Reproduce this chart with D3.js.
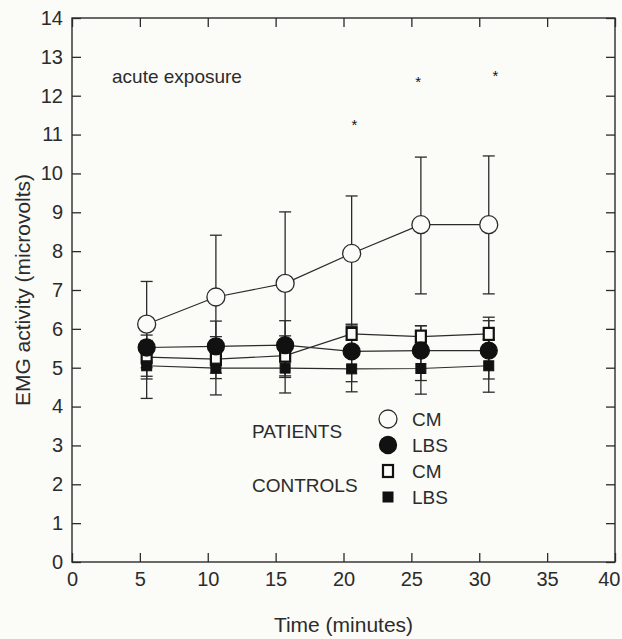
<!DOCTYPE html>
<html>
<head>
<meta charset="utf-8">
<script src="https://cdn.jsdelivr.net/npm/d3@7"></script>
<style>
  body { margin: 0; background: #fbfbf7; }
  svg { display: block; font-family: "Liberation Sans", Arial, sans-serif; }
</style>
</head>
<body>
<script>
// Data (minutes, microvolts).
var times = [5.5, 10.6, 15.7, 20.6, 25.7, 30.7];

var patientsCM    = [6.12, 6.82, 7.17, 7.94, 8.68, 8.68];
var patientsCMHi  = [7.22, 8.41, 9.01, 9.42, 10.42, 10.45];
var patientsCMLo  = [5.0, 5.2, 5.3, 6.1, 6.9, 6.9];

var patientsLBS   = [5.52, 5.55, 5.58, 5.42, 5.44, 5.44];
var patientsLBSHi = [6.2, 6.2, 6.21, 6.12, 6.08, 6.21];
var patientsLBSLo = [4.78, 4.86, 4.79, 4.64, 4.67, 4.71];

var controlsCM    = [5.27, 5.22, 5.31, 5.87, 5.80, 5.87];
var controlsCMHi  = [5.84, 5.8, 5.82, 6.06, 6.08, 6.30];
var controlsCMLo  = [4.71, 4.72, 4.75, 5.5, 5.5, 5.45];

var controlsLBS   = [5.05, 4.99, 4.99, 4.97, 4.98, 5.05];
var controlsLBSHi = [5.7, 5.7, 5.6, 5.56, 5.64, 5.73];
var controlsLBSLo = [4.21, 4.3, 4.35, 4.38, 4.32, 4.37];

// Significance marks.
var starTimes  = [20.8, 25.5, 31.2];
var starValues = [11.3, 12.4, 12.55];

var xTicks = [0, 5, 10, 15, 20, 25, 30, 35, 40];
var yTicks = [0, 1, 2, 3, 4, 5, 6, 7, 8, 9, 10, 11, 12, 13, 14];

var legendGroups = ["PATIENTS", "CONTROLS"];
var legendLabels = ["CM", "LBS", "CM", "LBS"];

var ink = "#2b2b2b";
var paper = "#fbfbf7";

// Create chart.
var width = 622, height = 639;
var svg = d3.select("body").append("svg")
        .attr("width", width)
        .attr("height", height);

var x = d3.scaleLinear().domain([0, 40]).range([72, 615]);
var y = d3.scaleLinear().domain([0, 14]).range([562, 18]);

// Axes with inward ticks on all four sides.
var tickLen = 9;
var gLeft = svg.append("g").attr("transform", "translate(" + x(0) + ",0)")
        .call(d3.axisLeft(y).tickValues(yTicks).tickSize(-tickLen).tickPadding(9));
var gBottom = svg.append("g").attr("transform", "translate(0," + y(0) + ")")
        .call(d3.axisBottom(x).tickValues(xTicks).tickSize(-tickLen).tickPadding(10));
var gRight = svg.append("g").attr("transform", "translate(" + x(40) + ",0)")
        .call(d3.axisRight(y).tickValues(yTicks).tickSize(-tickLen).tickFormat(""));
var gTop = svg.append("g").attr("transform", "translate(0," + y(14) + ")")
        .call(d3.axisTop(x).tickValues(xTicks).tickSize(-tickLen).tickFormat(""));

[gLeft, gBottom, gRight, gTop].forEach(function(g) {
    g.select(".domain").remove();
    g.selectAll(".tick line").attr("stroke", ink).attr("stroke-width", 1.3);
    g.selectAll(".tick text").attr("fill", ink).style("font-size", "20px");
});
// The last x label sits against the page edge, keep it inside.
gBottom.selectAll(".tick text").filter(function(d) { return d === 40; })
        .attr("text-anchor", "end").attr("dx", 5);

// Frame.
svg.append("rect")
        .attr("x", x(0)).attr("y", y(14))
        .attr("width", x(40) - x(0)).attr("height", y(0) - y(14))
        .attr("fill", "none").attr("stroke", ink).attr("stroke-width", 1.4);

// Axis titles.
svg.append("text")
        .attr("x", (x(0) + x(40)) / 2).attr("y", 632)
        .attr("text-anchor", "middle").attr("fill", ink)
        .style("font-size", "21px")
        .text("Time (minutes)");
svg.append("text")
        .attr("transform", "translate(30," + y(7) + ") rotate(-90)")
        .attr("text-anchor", "middle").attr("fill", ink)
        .style("font-size", "21px")
        .text("EMG activity (microvolts)");

svg.append("text")
        .attr("x", 112).attr("y", 83)
        .attr("fill", ink).style("font-size", "19px")
        .text("acute exposure");

// Series definitions.
var series = [
    {mean: patientsCM,  hi: patientsCMHi,  lo: patientsCMLo,  shape: "circle", filled: false},
    {mean: controlsCM,  hi: controlsCMHi,  lo: controlsCMLo,  shape: "square", filled: false},
    {mean: controlsLBS, hi: controlsLBSHi, lo: controlsLBSLo, shape: "square", filled: true},
    {mean: patientsLBS, hi: patientsLBSHi, lo: patientsLBSLo, shape: "circle", filled: true}
];

var line = d3.line()
        .x(function(d) { return x(d[0]); })
        .y(function(d) { return y(d[1]); });

var drawMarker = function(g, shape, filled, cx, cy) {
    if (shape === "circle") {
        g.append("circle")
                .attr("cx", cx).attr("cy", cy).attr("r", filled ? 8.5 : 9)
                .attr("fill", filled ? "#111" : paper)
                .attr("stroke", filled ? "#111" : ink)
                .attr("stroke-width", 1.3);
    } else {
        var s = 10;
        g.append("rect")
                .attr("x", cx - s / 2).attr("y", cy - s / 2 - (filled ? 0 : 1))
                .attr("width", s).attr("height", filled ? s : s + 2)
                .attr("fill", filled ? "#111" : paper)
                .attr("stroke", "#111")
                .attr("stroke-width", filled ? 1 : 2.2);
    }
};

// Connecting lines.
series.forEach(function(s) {
    svg.append("path")
            .datum(times.map(function(t, i) { return [t, s.mean[i]]; }))
            .attr("d", line)
            .attr("fill", "none")
            .attr("stroke", ink)
            .attr("stroke-width", 1.2);
});

// Error bars.
var cap = 6;
series.forEach(function(s) {
    var g = svg.append("g").attr("stroke", ink).attr("stroke-width", 1.3);
    times.forEach(function(t, i) {
        g.append("line").attr("x1", x(t)).attr("x2", x(t))
                .attr("y1", y(s.lo[i])).attr("y2", y(s.hi[i]));
        [s.lo[i], s.hi[i]].forEach(function(v) {
            g.append("line").attr("x1", x(t) - cap).attr("x2", x(t) + cap)
                    .attr("y1", y(v)).attr("y2", y(v));
        });
    });
});

// Markers.
series.forEach(function(s) {
    var g = svg.append("g");
    times.forEach(function(t, i) {
        drawMarker(g, s.shape, s.filled, x(t), y(s.mean[i]));
    });
});

// Asterisks.
svg.selectAll(".star")
        .data(starTimes)
        .enter().append("text")
        .attr("class", "star")
        .attr("x", function(d) { return x(d); })
        .attr("y", function(d, i) { return y(starValues[i]) + 7; })
        .attr("text-anchor", "middle")
        .attr("fill", "#111")
        .style("font-size", "15px")
        .text("*");

// Legend.
var legend = svg.append("g");
legend.selectAll(".group")
        .data(legendGroups)
        .enter().append("text")
        .attr("x", 252)
        .attr("y", function(d, i) { return 438 + i * 54; })
        .attr("fill", ink).style("font-size", "19px")
        .text(function(d) { return d; });

var legendShapes = [["circle", false], ["circle", true], ["square", false], ["square", true]];
legendLabels.forEach(function(label, i) {
    var cy = 419 + i * 26;
    drawMarker(legend, legendShapes[i][0], legendShapes[i][1], 388, cy);
    legend.append("text")
            .attr("x", 412).attr("y", cy + 7)
            .attr("fill", ink).style("font-size", "19px")
            .text(label);
});
</script>
</body>
</html>
